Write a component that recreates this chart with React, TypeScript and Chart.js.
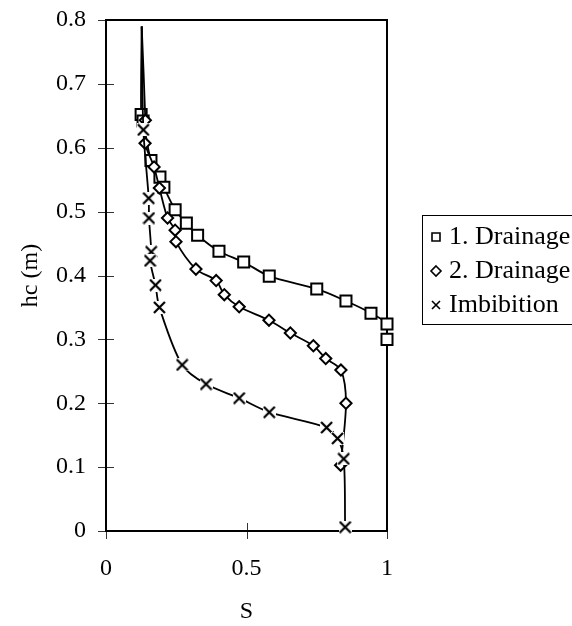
import React, { useEffect, useRef } from 'react';
import { Chart, registerables } from 'chart.js';

Chart.register(...registerables);

// ---- data ----
const drainage1S = [0.127, 0.125, 0.132, 0.16, 0.192, 0.206, 0.246, 0.286, 0.326, 0.402, 0.49, 0.581, 0.75, 0.854, 0.943, 1.0, 1.0, 1.0];
const drainage1H = [0.79, 0.652, 0.642, 0.58, 0.554, 0.538, 0.503, 0.482, 0.463, 0.438, 0.421, 0.399, 0.379, 0.36, 0.341, 0.324, 0.3, 0];

const drainage2S = [0.127, 0.14, 0.139, 0.171, 0.19, 0.219, 0.246, 0.249, 0.32, 0.392, 0.421, 0.474, 0.58, 0.656, 0.738, 0.782, 0.836, 0.854, 0.835];
const drainage2H = [0.79, 0.643, 0.607, 0.57, 0.537, 0.49, 0.471, 0.453, 0.41, 0.392, 0.37, 0.351, 0.33, 0.31, 0.29, 0.27, 0.252, 0.2, 0.103];

const imbibitionS = [0.127, 0.133, 0.152, 0.153, 0.161, 0.157, 0.176, 0.19, 0.271, 0.356, 0.474, 0.581, 0.785, 0.824, 0.846, 0.851];
const imbibitionH = [0.79, 0.628, 0.521, 0.49, 0.437, 0.423, 0.385, 0.35, 0.26, 0.23, 0.208, 0.186, 0.162, 0.145, 0.113, 0.006];

const seriesLabels = ['1. Drainage', '2. Drainage', 'Imbibition'];
const xTicks = [0, 0.5, 1];
const yTicks = [0, 0.1, 0.2, 0.3, 0.4, 0.5, 0.6, 0.7, 0.8];
const xTitle = 'S';
const yTitle = 'hc (m)';

const FONT = 'Liberation Serif';

function makeCross(): HTMLCanvasElement {
  const c = document.createElement('canvas');
  c.width = 13;
  c.height = 13;
  const g = c.getContext('2d')!;
  g.fillStyle = '#fff';
  g.fillRect(0, 0, 13, 13);
  g.strokeStyle = '#000';
  g.lineWidth = 2.2;
  g.beginPath();
  g.moveTo(1, 1);
  g.lineTo(12, 12);
  g.moveTo(12, 1);
  g.lineTo(1, 12);
  g.stroke();
  return c;
}

export default function App() {
  const ref = useRef<HTMLCanvasElement>(null);

  useEffect(() => {
    document.body.style.margin = '0';
    const cross = makeCross();
    const toPts = (s: number[], h: number[]) => s.map((v, i) => ({ x: v, y: h[i] }));

    const frame = {
      id: 'frame',
      beforeDatasetsDraw(chart: any) {
        const { ctx, chartArea: a, scales } = chart;
        ctx.save();
        ctx.strokeStyle = '#333';
        ctx.lineWidth = 1;
        ctx.beginPath();
        xTicks.forEach((v) => {
          const px = Math.round(scales.x.getPixelForValue(v)) + 0.5;
          ctx.moveTo(px, a.bottom - 8);
          ctx.lineTo(px, a.bottom + 8);
        });
        yTicks.forEach((v) => {
          const py = Math.round(scales.y.getPixelForValue(v)) + 0.5;
          ctx.moveTo(a.left - 8, py);
          ctx.lineTo(a.left + 8, py);
        });
        ctx.stroke();
        ctx.strokeStyle = '#000';
        ctx.lineWidth = 2;
        ctx.strokeRect(a.left, a.top, a.right - a.left, a.bottom - a.top);
        ctx.restore();
      },
    };

    const legend = {
      id: 'customLegend',
      afterDraw(chart: any) {
        const { ctx } = chart;
        ctx.save();
        ctx.strokeStyle = '#000';
        ctx.lineWidth = 1;
        ctx.strokeRect(422.5, 215.5, 200, 109);
        const rows = [237, 271, 305];
        const mx = 436;
        ctx.font = `26px "${FONT}"`;
        ctx.textBaseline = 'middle';
        ctx.textAlign = 'left';
        rows.forEach((y, i) => {
          ctx.lineWidth = 1.6;
          ctx.beginPath();
          if (i === 0) {
            ctx.rect(mx - 4, y - 4, 8, 8);
          } else if (i === 1) {
            ctx.moveTo(mx, y - 5);
            ctx.lineTo(mx + 5, y);
            ctx.lineTo(mx, y + 5);
            ctx.lineTo(mx - 5, y);
            ctx.closePath();
          } else {
            ctx.moveTo(mx - 4, y - 4);
            ctx.lineTo(mx + 4, y + 4);
            ctx.moveTo(mx + 4, y - 4);
            ctx.lineTo(mx - 4, y + 4);
          }
          ctx.stroke();
          ctx.fillStyle = '#000';
          ctx.fillText(seriesLabels[i], 449, y);
        });
        ctx.restore();
      },
    };

    const hideFirst = (r: number) => (c: any) => (c.dataIndex === 0 ? 0 : r);
    const hideEnds = (r: number, n: number) => (c: any) => (c.dataIndex === 0 || c.dataIndex === n - 1 ? 0 : r);

    const common = {
      showLine: true,
      borderColor: '#000',
      borderWidth: 1.8,
      pointBorderColor: '#000',
      pointBackgroundColor: '#fff',
      pointBorderWidth: 2,
      tension: 0.3,
      clip: false as any,
    };

    const chart = new Chart(ref.current!, {
      type: 'scatter',
      data: {
        datasets: [
          {
            ...common,
            label: seriesLabels[0],
            data: toPts(drainage1S, drainage1H),
            pointStyle: 'rect',
            pointRadius: hideEnds(7.8, drainage1S.length),
            order: 2,
          },
          {
            ...common,
            label: seriesLabels[1],
            data: toPts(drainage2S, drainage2H),
            pointStyle: 'rectRot',
            pointRadius: hideFirst(5.6),
            order: 1,
          },
          {
            ...common,
            label: seriesLabels[2],
            data: toPts(imbibitionS, imbibitionH),
            pointStyle: ((c: any) => (c.dataIndex === 0 ? false : cross)) as any,
            pointRadius: hideFirst(6),
            order: 0,
          },
        ],
      },
      options: {
        responsive: false,
        animation: false,
        devicePixelRatio: 1,
        layout: { padding: { top: 20, right: 185, left: 0, bottom: 0 } },
        plugins: {
          legend: { display: false },
          tooltip: { enabled: false },
        },
        scales: {
          x: {
            type: 'linear',
            min: 0,
            max: 1,
            afterBuildTicks: (s: any) => {
              s.ticks = xTicks.map((v) => ({ value: v }));
            },
            afterFit: (s: any) => {
              s.height = 95;
              s.paddingLeft = 0;
              s.paddingRight = 0;
            },
            ticks: {
              font: { family: FONT, size: 24 },
              color: '#000',
              padding: 23,
              maxRotation: 0,
              autoSkip: false,
              callback: (v: any) => String(v),
            },
            grid: { display: false, drawTicks: false },
            border: { display: false },
            title: {
              display: true,
              text: xTitle,
              color: '#000',
              font: { family: FONT, size: 24 },
              padding: { top: 0, bottom: 0 },
            },
          },
          y: {
            type: 'linear',
            min: 0,
            max: 0.8,
            afterBuildTicks: (s: any) => {
              s.ticks = yTicks.map((v) => ({ value: v }));
            },
            afterFit: (s: any) => {
              s.width = 106;
              s.paddingTop = 0;
              s.paddingBottom = 0;
            },
            ticks: {
              font: { family: FONT, size: 24 },
              color: '#000',
              padding: 20,
              autoSkip: false,
              callback: (v: any) => String(v),
            },
            grid: { display: false, drawTicks: false },
            border: { display: false },
            title: {
              display: true,
              text: yTitle,
              color: '#000',
              font: { family: FONT, size: 24 },
              padding: { top: 16, bottom: 0 },
            },
          },
        },
      },
      plugins: [frame, legend],
    });

    return () => chart.destroy();
  }, []);

  return (
    <div style={{ width: 572, height: 626, background: '#fff' }}>
      <canvas ref={ref} width={572} height={626} style={{ display: 'block' }} />
    </div>
  );
}
